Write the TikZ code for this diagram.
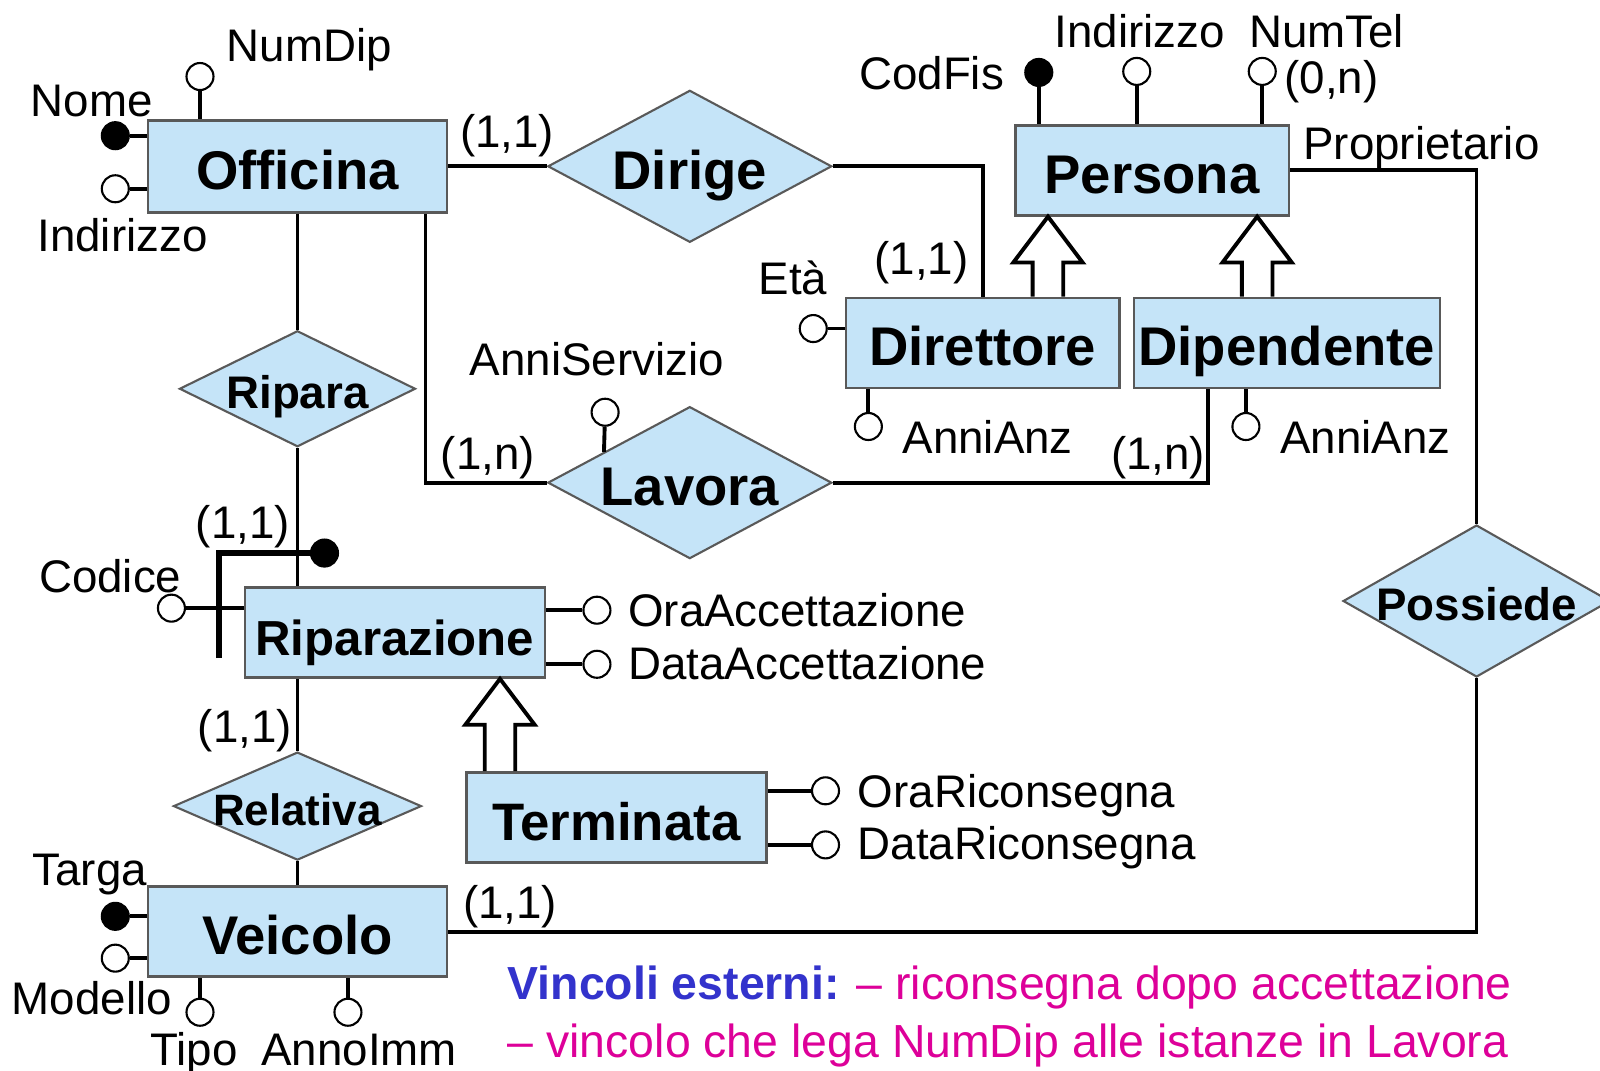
\documentclass[tikz,border=0pt]{standalone}
\usepackage{fontspec}
\setmainfont{Liberation Sans}
\usetikzlibrary{shapes.geometric,calc}

\definecolor{erfill}{RGB}{197,228,248}
\definecolor{vincblue}{RGB}{51,51,204}
\definecolor{vincpink}{RGB}{221,0,153}

\tikzset{
    entity/.style={draw=black!65, line width=0.7pt, fill=erfill, inner sep=0pt,
        minimum height=0.9cm, text height=13pt, text depth=0pt,
        font=\fontsize{15.5}{18}\selectfont\bfseries},
    relation/.style={diamond, draw=black!65, line width=0.6pt, fill=erfill, inner sep=-5mm,
        text height=13pt, text depth=0pt, font=\fontsize{15.5}{18}\selectfont\bfseries},
    smallrel/.style={relation, text height=11pt, font=\fontsize{13}{15}\selectfont\bfseries},
    attr/.style={circle, draw, line width=0.6pt, fill=white, minimum size=0.27cm, inner sep=0pt},
    keyattr/.style={attr, fill=black},
    lbl/.style={inner sep=0pt, text height=9.4pt, text depth=0pt, font=\fontsize{13}{15}\selectfont},
    link/.style={line width=1.1pt},
    gen/.style={line width=1.1pt, line join=miter},
}

% hollow generalisation arrow: #1 foot on the child, #2 tip on the parent
\newcommand{\isaarrow}[2]{%
    \draw[gen] ($(#1)+(-0.15,0)$) -- ($(#2)+(-0.15,-0.45)$) -- ($(#2)+(-0.34,-0.45)$)
        -- (#2) -- ($(#2)+(0.34,-0.45)$) -- ($(#2)+(0.15,-0.45)$) -- ($(#1)+(0.15,0)$);}

\begin{document}
\begin{tikzpicture}[x=1.0204cm, y=1.0204cm]
    \useasboundingbox (0,0) rectangle (15.68,10.49);

    \node[entity, minimum width=2.99cm, minimum height=0.92cm] (officina) at (2.915,8.86) {Officina};
    \node[entity, minimum width=2.735cm] (persona) at (11.29,8.82) {Persona};
    \node[entity, minimum width=2.735cm] (direttore) at (9.63,7.13) {Direttore};
    \node[entity, minimum width=3.06cm] (dipendente) at (12.61,7.13) {Dipendente};
    \node[entity, minimum width=3.0cm, font=\fontsize{14}{16}\selectfont\bfseries] (riparazione) at (3.87,4.29) {Riparazione};
    \node[entity, minimum width=3.0cm, font=\fontsize{15}{17}\selectfont\bfseries] (terminata) at (6.04,2.48) {Terminata};
    \node[entity, minimum width=2.99cm] (veicolo) at (2.915,1.36) {Veicolo};

    \node[relation, minimum width=2.84cm, minimum height=1.52cm] (dirige) at (6.76,8.86) {Dirige};
    \node[relation, minimum width=2.84cm, minimum height=1.52cm] (lavora) at (6.76,5.76) {Lavora};
    \node[smallrel, minimum width=2.36cm, minimum height=1.16cm] (ripara) at (2.915,6.68) {Ripara};
    \node[smallrel, minimum width=2.48cm, minimum height=1.08cm, font=\fontsize{12.5}{15}\selectfont\bfseries] (relativa) at (2.915,2.59) {Relativa};
    \node[smallrel, minimum width=2.67cm, minimum height=1.52cm] (possiede) at (14.47,4.60) {Possiede};

    \draw[link] (officina) -- (dirige);
    \draw[link] (dirige.east) -| (direttore.north);
    \draw[link] (lavora.west) -| (officina.south -| 4.17,0);
    \draw[link] (lavora.east) -| (dipendente.south -| 11.84,0);
    \draw[link] (officina) -- (ripara);
    \draw[link] (ripara.south) -- (ripara.south |- riparazione.north);
    \draw[link] (relativa.north |- riparazione.south) -- (relativa.north);
    \draw[link] (relativa) -- (veicolo);
    \draw[link] (persona.east) -| (possiede.north);
    \draw[link] (possiede.south) |- (veicolo.east);

    \node[keyattr] (nome) at (1.13,9.16) {};
    \node[attr] (offind) at (1.13,8.64) {};
    \node[attr] (numdip) at (1.96,9.74) {};
    \node[keyattr] (codfis) at (10.18,9.78) {};
    \node[attr] (perind) at (11.14,9.79) {};
    \node[attr] (numtel) at (12.37,9.79) {};
    \node[attr] (eta) at (7.97,7.27) {};
    \node[attr] (dirannianz) at (8.51,6.31) {};
    \node[attr] (dipannianz) at (12.21,6.31) {};
    \node[attr] (anniserv) at (5.93,6.45) {};
    \node[attr] (codice) at (1.68,4.53) {};
    \node[keyattr] (codkey) at (3.18,5.07) {};
    \node[attr] (oraacc) at (5.85,4.51) {};
    \node[attr] (dataacc) at (5.85,3.98) {};
    \node[attr] (orarico) at (8.09,2.74) {};
    \node[attr] (datarico) at (8.09,2.21) {};
    \node[keyattr] (targa) at (1.13,1.51) {};
    \node[attr] (modello) at (1.13,1.10) {};
    \node[attr] (tipo) at (1.96,0.57) {};
    \node[attr] (annoimm) at (3.41,0.57) {};
    \coordinate (codbot) at (2.15,4.04);

    \draw[link] (nome) -- (nome -| officina.west);
    \draw[link] (offind) -- (offind -| officina.west);
    \draw[link] (numdip) -- (numdip |- officina.north);
    \draw[link] (codfis) -- (codfis |- persona.north);
    \draw[link] (perind) -- (perind |- persona.north);
    \draw[link] (numtel) -- (numtel |- persona.north);
    \draw[link] (eta) -- (eta -| direttore.west);
    \draw[link] (dirannianz) -- (dirannianz |- direttore.south);
    \draw[link] (dipannianz) -- (dipannianz |- dipendente.south);
    \draw[link] (anniserv) -- ($(lavora.west)!0.4!(lavora.north)$);
    \draw[link] (codice) -- (codice -| riparazione.west);
    \draw[line width=1.7pt] (codbot) |- (codkey);
    \draw[link] (oraacc) -- (oraacc -| riparazione.east);
    \draw[link] (dataacc) -- (dataacc -| riparazione.east);
    \draw[link] (orarico) -- (orarico -| terminata.east);
    \draw[link] (datarico) -- (datarico -| terminata.east);
    \draw[link] (targa) -- (targa -| veicolo.west);
    \draw[link] (modello) -- (modello -| veicolo.west);
    \draw[link] (tipo) -- (tipo |- veicolo.south);
    \draw[link] (annoimm) -- (annoimm |- veicolo.south);

    \coordinate (isadir) at (direttore.north -| 10.27,0);
    \coordinate (isadirtip) at (persona.south -| 10.27,0);
    \coordinate (isadip) at (dipendente.north -| 12.32,0);
    \coordinate (isadiptip) at (persona.south -| 12.32,0);
    \coordinate (isaterm) at (terminata.north -| 4.90,0);
    \coordinate (isatermtip) at (riparazione.south -| 4.90,0);
    \isaarrow{isadir}{isadirtip}
    \isaarrow{isadip}{isadiptip}
    \isaarrow{isaterm}{isatermtip}

    \node[lbl] (lnumdip) at (3.03,10.05) {NumDip};
    \node[lbl] (lnome) at (0.90,9.51) {Nome};
    \node[lbl] (loffind) at (1.20,8.19) {Indirizzo};
    \node[lbl] (c1) at (4.97,9.21) {(1,1)};
    \node[lbl] (lcodfis) at (9.13,9.77) {CodFis};
    \node[lbl] (lperind) at (11.17,10.19) {Indirizzo};
    \node[lbl] (lnumtel) at (13.00,10.19) {NumTel};
    \node[lbl] (c2) at (13.05,9.74) {(0,n)};
    \node[lbl] (lprop) at (13.93,9.09) {Proprietario};
    \node[lbl] (c3) at (9.03,7.96) {(1,1)};
    \node[lbl] (leta) at (7.77,7.77) {Età};
    \node[lbl] (ldirannianz) at (9.68,6.21) {AnniAnz};
    \node[lbl] (ldipannianz) at (13.38,6.21) {AnniAnz};
    \node[lbl] (lanniserv) at (5.85,6.97) {AnniServizio};
    \node[lbl] (c4) at (4.78,6.05) {(1,n)};
    \node[lbl] (c5) at (11.35,6.05) {(1,n)};
    \node[lbl] (c6) at (2.38,5.37) {(1,1)};
    \node[lbl] (lcodice) at (1.08,4.85) {Codice};
    \node[lbl, anchor=west] (loraacc) at (6.15,4.51) {OraAccettazione};
    \node[lbl, anchor=west] (ldataacc) at (6.15,3.99) {DataAccettazione};
    \node[lbl] (c7) at (2.40,3.38) {(1,1)};
    \node[lbl, anchor=west] (lorarico) at (8.40,2.74) {OraRiconsegna};
    \node[lbl, anchor=west] (ldatarico) at (8.40,2.23) {DataRiconsegna};
    \node[lbl] (ltarga) at (0.88,1.97) {Targa};
    \node[lbl] (lmodello) at (0.90,0.71) {Modello};
    \node[lbl] (ltipo) at (1.90,0.21) {Tipo};
    \node[lbl] (lannoimm) at (3.52,0.21) {AnnoImm};
    \node[lbl] (c8) at (5.00,1.65) {(1,1)};

    \node[lbl, anchor=west, font=\fontsize{13.2}{15}\selectfont] (vincoli1) at (4.97,0.86)
        {\textcolor{vincblue}{\bfseries Vincoli esterni:} \textcolor{vincpink}{– riconsegna dopo accettazione}};
    \node[lbl, anchor=west, font=\fontsize{13.2}{15}\selectfont] (vincoli2) at (4.97,0.29)
        {\textcolor{vincpink}{– vincolo che lega NumDip alle istanze in Lavora}};
\end{tikzpicture}
\end{document}
